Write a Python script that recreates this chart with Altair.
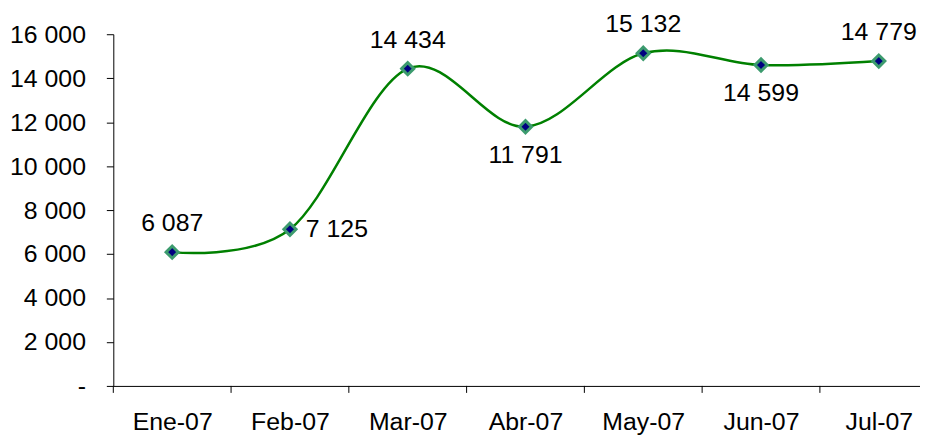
import json
import altair as alt
import pandas as pd

months = ["Ene-07", "Feb-07", "Mar-07", "Abr-07", "May-07", "Jun-07", "Jul-07"]
values = [6087, 7125, 14434, 11791, 15132, 14599, 14779]
above = ["Ene-07", "Mar-07", "May-07", "Jul-07"]
below = ["Abr-07", "Jun-07"]
right = ["Feb-07"]

df = pd.DataFrame({"month": months, "value": values, "i": list(range(len(months)))})

FONT = "Liberation Sans"
FS = 25

month_expr = json.dumps(months)
x_scale = alt.Scale(domain=[-0.5, 6.35], nice=False, zero=False)
y_scale = alt.Scale(domain=[0, 16000], nice=False)

x_axis = alt.Axis(
    values=list(range(len(months))),
    labelExpr=f"{month_expr}[datum.value]",
    ticks=False, tickSize=0, grid=False, title=None,
    domainColor="#000000", domainWidth=1,
    labelFont=FONT, labelFontSize=FS, labelColor="#000000",
    labelPadding=24, labelAngle=0, labelOverlap=False,
)
y_axis = alt.Axis(
    values=list(range(0, 16001, 2000)),
    labelExpr="datum.value == 0 ? '-' : replace(format(datum.value, ','), ',', ' ')",
    grid=False, title=None, tickSize=7, tickColor="#000000",
    domainColor="#000000", domainWidth=1,
    labelFont=FONT, labelFontSize=FS, labelColor="#000000",
    labelPadding=21,
)

base = alt.Chart(df)

line = base.mark_line(
    interpolate="cardinal", tension=0, color="#008000", strokeWidth=2.5
).encode(
    x=alt.X("i:Q", scale=x_scale, axis=x_axis),
    y=alt.Y("value:Q", scale=y_scale, axis=y_axis),
)

ticks = base.transform_calculate(b="datum.i - 0.5").mark_rule(
    color="#000000", strokeWidth=1
).encode(
    x=alt.X("b:Q", scale=x_scale),
    y=alt.value(354),
    y2=alt.value(361),
)

points = base.mark_point(
    shape="diamond", filled=True, fill="#000080", stroke="#3C9B6E",
    strokeWidth=3, size=150, opacity=1,
).encode(
    x=alt.X("i:Q", scale=x_scale),
    y=alt.Y("value:Q", scale=y_scale),
)

lab = base.transform_calculate(
    label="replace(format(datum.value, ','), ',', ' ')"
)

def text_layer(names, **kw):
    return lab.transform_filter(
        alt.FieldOneOfPredicate(field="month", oneOf=names)
    ).mark_text(font=FONT, fontSize=FS, color="#000000", **kw).encode(
        x=alt.X("i:Q", scale=x_scale),
        y=alt.Y("value:Q", scale=y_scale),
        text="label:N",
    )

t_above = text_layer(above, align="center", baseline="middle", dy=-29)
t_below = text_layer(below, align="center", baseline="middle", dy=28)
t_right = text_layer(right, align="left", baseline="middle", dx=16)

chart = alt.layer(line, ticks, points, t_above, t_below, t_right).properties(
    width=812,
    height=354,
    padding={"left": 106, "top": 25, "right": 0, "bottom": 49},
    autosize=alt.AutoSizeParams(type="none"),
    background="#ffffff",
).configure_view(stroke=None)

chart.save("out.html", embed_options={"renderer": "svg", "actions": False})
